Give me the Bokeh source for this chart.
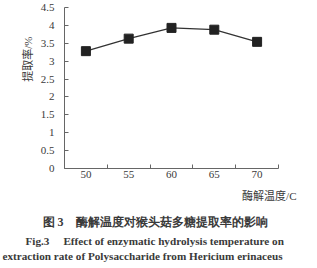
from bokeh.plotting import figure
from bokeh.models import Range1d, FixedTicker, Title
from bokeh.embed import file_html
from bokeh.resources import INLINE

temps = [50, 55, 60, 65, 70]
rates = [3.28, 3.63, 3.93, 3.88, 3.54]
y_ticks = [0, 0.5, 1, 1.5, 2, 2.5, 3, 3.5, 4, 4.5]
y_tick_labels = ["0", "0.5", "1", "1.5", "2", "2.5", "3", "3.5", "4", "4.5"]
x_bounds = [47.5, 52.5, 57.5, 62.5, 67.5, 72.5]
x_title = "酶解温度/C"
y_title = "提取率/%"
cap1 = "图 3　酶解温度对猴头菇多糖提取率的影响"
cap2 = "Fig.3\u2003\u00a0Effect of enzymatic hydrolysis temperature on"
cap3 = "extraction rate of Polysaccharide from Hericium erinaceus"

TXT = "#3a3a3a"
SERIF = "Liberation Serif"
MIX = "'Liberation Serif', 'Noto Sans CJK SC'"

p = figure(width=317, height=268, output_backend="svg", toolbar_location=None,
           x_range=Range1d(x_bounds[0], x_bounds[-1]), y_range=Range1d(0, 4.5),
           min_border_left=64, min_border_right=39, min_border_top=7, min_border_bottom=100)
p.outline_line_color = None
p.xgrid.visible = False
p.ygrid.visible = False

p.line(temps, rates, line_color="#333333", line_width=1.3)
p.scatter(temps, rates, marker="square", size=9, fill_color="#222222", line_color="#222222")

# y axis
ya = p.yaxis[0]
ya.ticker = FixedTicker(ticks=y_ticks)
ya.major_label_overrides = {t: l for t, l in zip(y_ticks, y_tick_labels)}
ya.major_tick_in = 4
ya.major_tick_out = 0
ya.minor_tick_line_color = None
ya.axis_line_color = "#666666"
ya.major_tick_line_color = "#666666"
ya.major_label_text_font = SERIF
ya.major_label_text_font_size = "11px"
ya.major_label_text_color = TXT
ya.major_label_standoff = 10

# x axis
xa = p.xaxis[0]
xa.ticker = FixedTicker(ticks=temps, minor_ticks=x_bounds)
xa.major_tick_line_color = None
xa.major_tick_in = 0
xa.major_tick_out = 0
xa.minor_tick_in = 4
xa.minor_tick_out = 0
xa.minor_tick_line_color = "#666666"
xa.axis_line_color = "#666666"
xa.major_label_text_font = SERIF
xa.major_label_text_font_size = "11px"
xa.major_label_text_color = TXT
xa.major_label_standoff = 2

# y-axis title (left panel, outside the axis)
p.add_layout(Title(text=y_title, align="right", offset=29, standoff=8,
                   text_font=MIX, text_font_size="11px", text_font_style="normal",
                   text_color=TXT), "left")

# x-axis title and caption (below panels, stacked outward)
p.add_layout(Title(text=x_title, align="right", offset=-18, standoff=14,
                   text_font=MIX, text_font_size="11px", text_font_style="normal",
                   text_color=TXT), "below")
p.add_layout(Title(text=cap1, align="left", offset=-22, standoff=8,
                   text_font=SERIF, text_font_size="12px", text_font_style="bold",
                   text_color=TXT), "below")
p.add_layout(Title(text=cap2, align="left", offset=-39, standoff=0,
                   text_font=SERIF, text_font_size="11.2px", text_font_style="bold",
                   text_color=TXT), "below")
p.add_layout(Title(text=cap3, align="left", offset=-62, standoff=2,
                   text_font=SERIF, text_font_size="11.2px", text_font_style="bold",
                   text_color=TXT), "below")

open("out.html", "w").write(file_html(p, INLINE))
